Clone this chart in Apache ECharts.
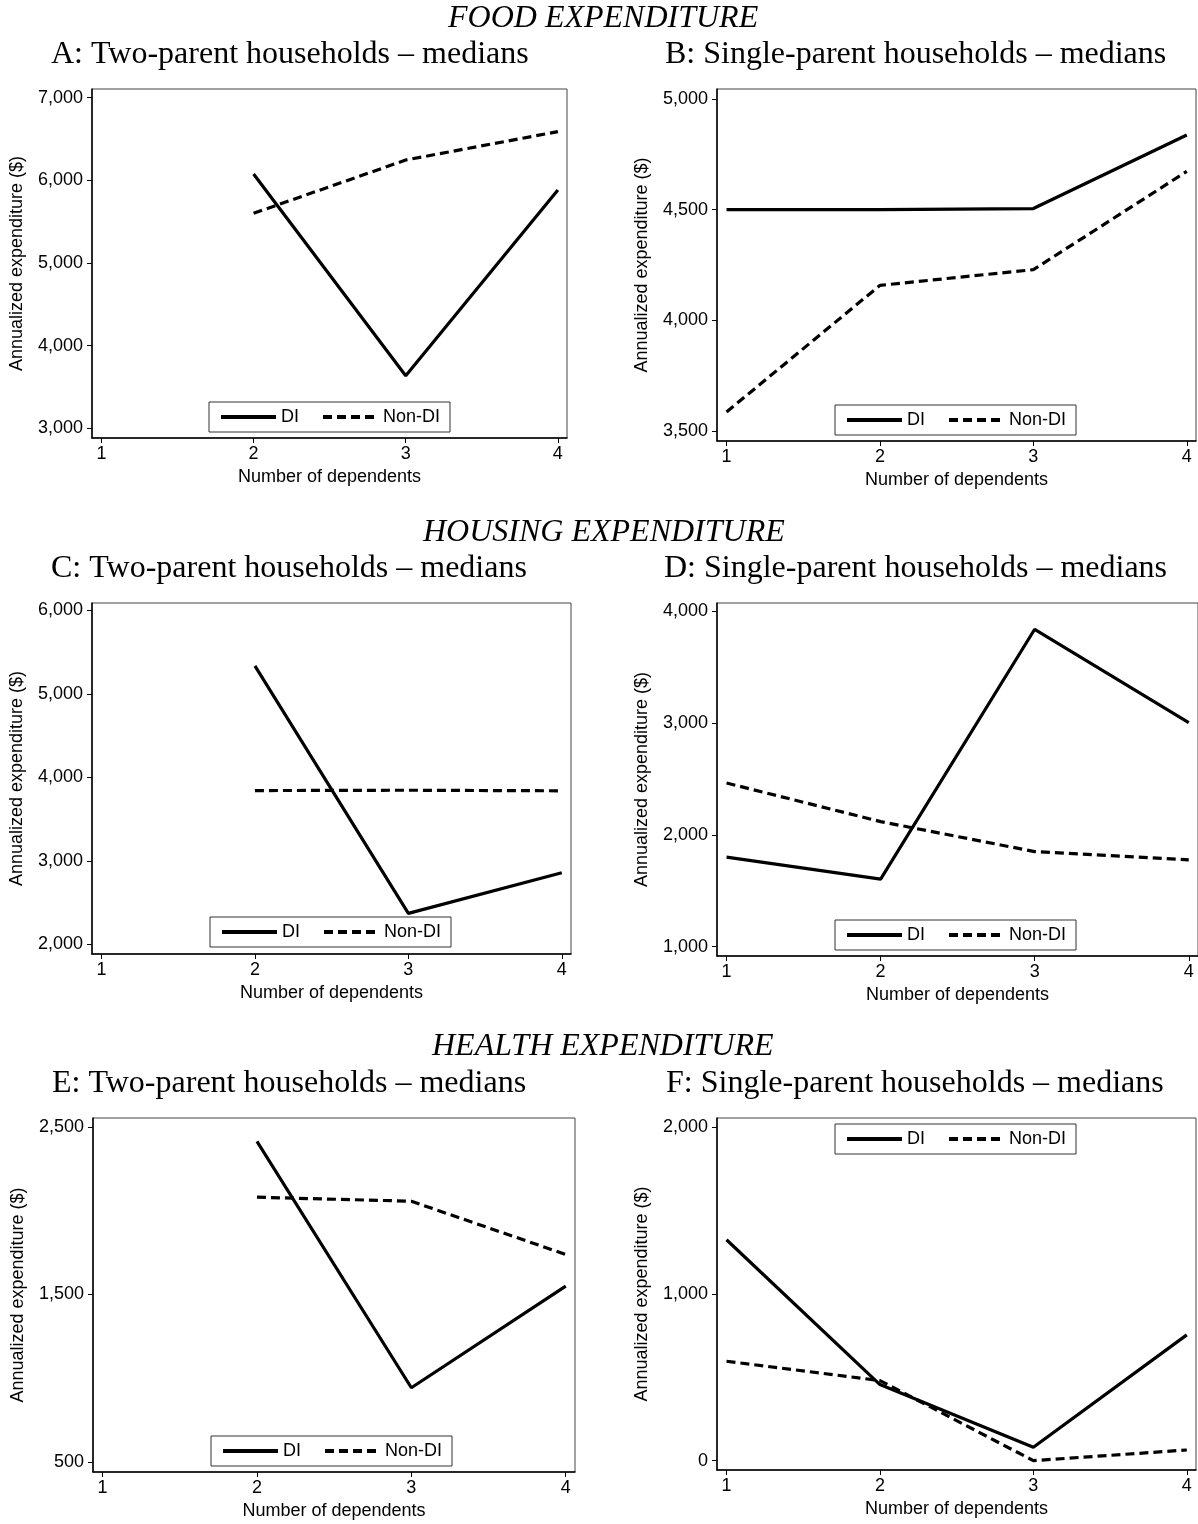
<!DOCTYPE html>
<html>
<head>
<meta charset="utf-8">
<script src="https://cdn.jsdelivr.net/npm/echarts@6/dist/echarts.min.js"></script>
<style>
html,body{margin:0;padding:0;background:#fff;}
#chart{width:1198px;height:1524px;}
</style>
</head>
<body>
<div id="chart"></div>
<script>
// ---- data ----
const dependents = [1, 2, 3, 4];
const xTicks = [1, 2, 3, 4];

const foodTwoDI = [null, 6077, 3636, 5883];
const foodTwoNonDI = [null, 5601, 6246, 6589];
const foodSingleDI = [4500, 4500, 4505, 4837];
const foodSingleNonDI = [3586, 4158, 4229, 4673];

const housingTwoDI = [null, 5334, 2371, 2856];
const housingTwoNonDI = [null, 3841, 3845, 3838];
const housingSingleDI = [1801, 1604, 3839, 3005];
const housingSingleNonDI = [2464, 2119, 1851, 1777];

const healthTwoDI = [null, 2414, 943, 1550];
const healthTwoNonDI = [null, 2081, 2057, 1739];
const healthSingleDI = [1324, 456, 80, 754];
const healthSingleNonDI = [596, 480, 0, 64];

const yTicksA = [3000, 4000, 5000, 6000, 7000];
const yTicksB = [3500, 4000, 4500, 5000];
const yTicksC = [2000, 3000, 4000, 5000, 6000];
const yTicksD = [1000, 2000, 3000, 4000];
const yTicksE = [500, 1500, 2500];
const yTicksF = [0, 1000, 2000];

const sectionTitles = ['FOOD EXPENDITURE', 'HOUSING EXPENDITURE', 'HEALTH EXPENDITURE'];
const panelTitles = [
  'A: Two-parent households \u2013 medians',
  'B: Single-parent households \u2013 medians',
  'C: Two-parent households \u2013 medians',
  'D: Single-parent households \u2013 medians',
  'E: Two-parent households \u2013 medians',
  'F: Single-parent households \u2013 medians'
];
const seriesNames = ['DI', 'Non-DI'];
const yAxisTitle = 'Annualized expenditure ($)';
const xAxisTitle = 'Number of dependents';

// ---- layout ----
const panels = [
  {grid:{left:92, top:89, width:475, height:349}, y:[2883,7105], ticks:yTicksA, di:foodTwoDI, non:foodTwoNonDI, title:{left:51, top:39}, legend:{left:209, top:402}},
  {grid:{left:717, top:89, width:479, height:352}, y:[3455,5045], ticks:yTicksB, di:foodSingleDI, non:foodSingleNonDI, title:{left:665, top:39}, legend:{left:835, top:405}},
  {grid:{left:92, top:603, width:479, height:351}, y:[1884,6087], ticks:yTicksC, di:housingTwoDI, non:housingTwoNonDI, title:{left:51, top:553}, legend:{left:210, top:917}},
  {grid:{left:717, top:603, width:481, height:353}, y:[917,4074], ticks:yTicksD, di:housingSingleDI, non:housingSingleNonDI, title:{left:664, top:553}, legend:{left:835, top:920}},
  {grid:{left:93, top:1118, width:482, height:354}, y:[440,2554], ticks:yTicksE, di:healthTwoDI, non:healthTwoNonDI, title:{left:52, top:1068}, legend:{left:211, top:1436}},
  {grid:{left:717, top:1118, width:479, height:352}, y:[-56,2054], ticks:yTicksF, di:healthSingleDI, non:healthSingleNonDI, title:{left:666, top:1068}, legend:{left:835, top:1124}}
];
const sectionPos = [{left:448, top:3}, {left:423, top:517}, {left:432, top:1031}];

const sans = 'Liberation Sans, Arial, sans-serif';
const serif = 'Liberation Serif, Times New Roman, serif';
const fmt = v => String(v).replace(/\B(?=(\d{3})+(?!\d))/g, ',');
const toPairs = arr => dependents.map((x, i) => [x, arr[i]]).filter(p => p[1] !== null);

const titles = [];
sectionTitles.forEach((t, i) => titles.push({
  text: t, left: sectionPos[i].left, top: sectionPos[i].top, padding: 0,
  textStyle: {fontFamily: serif, fontStyle: 'italic', fontWeight: 'normal', fontSize: 32, color: '#000'}
}));
panels.forEach((p, i) => titles.push({
  text: panelTitles[i], left: p.title.left, top: p.title.top, padding: 0,
  textStyle: {fontFamily: serif, fontWeight: 'normal', fontSize: 32, color: '#000'}
}));

const grids = [], xAxes = [], yAxes = [], series = [], legends = [];
panels.forEach((p, i) => {
  grids.push(Object.assign({show: true, borderColor: '#444', borderWidth: 1, backgroundColor: 'transparent'}, p.grid));
  xAxes.push({
    type: 'value', gridIndex: i, min: 0.938, max: 4.06,
    name: xAxisTitle, nameLocation: 'middle', nameGap: 30,
    nameTextStyle: {fontFamily: sans, fontSize: 18, color: '#000'},
    axisLine: {show: true, onZero: false, lineStyle: {color: '#000', width: 1.5}},
    axisTick: {show: true, length: 5, customValues: xTicks, lineStyle: {color: '#000', width: 1}},
    axisLabel: {customValues: xTicks, margin: 7, fontFamily: sans, fontSize: 18, color: '#000'},
    splitLine: {show: false}
  });
  yAxes.push({
    type: 'value', gridIndex: i, min: p.y[0], max: p.y[1],
    name: yAxisTitle, nameLocation: 'middle', nameGap: 66, nameRotate: 90,
    nameTextStyle: {fontFamily: sans, fontSize: 18, color: '#000'},
    axisLine: {show: true, onZero: false, lineStyle: {color: '#000', width: 1.5}},
    axisTick: {show: true, length: 5, customValues: p.ticks, lineStyle: {color: '#000', width: 1}},
    axisLabel: {customValues: p.ticks, margin: 9, fontFamily: sans, fontSize: 18, color: '#000', formatter: fmt},
    splitLine: {show: false}
  });
  series.push({
    name: seriesNames[0], type: 'line', xAxisIndex: i, yAxisIndex: i,
    data: toPairs(p.di), symbol: 'none', silent: true, animation: false,
    lineStyle: {color: '#000', width: 3.2, type: 'solid'}, itemStyle: {color: '#000'}
  });
  series.push({
    name: seriesNames[1], type: 'line', xAxisIndex: i, yAxisIndex: i,
    data: toPairs(p.non), symbol: 'none', silent: true, animation: false,
    lineStyle: {color: '#000', width: 3.2, type: [9, 5]}, itemStyle: {color: '#000'}
  });
  legends.push({
    data: seriesNames, left: p.legend.left, top: p.legend.top, orient: 'horizontal',
    itemWidth: 55, itemHeight: 14, itemGap: 22, padding: [6, 10],
    borderColor: '#333', borderWidth: 1, backgroundColor: '#fff',
    itemStyle: {color: 'rgba(0,0,0,0)', borderWidth: 0, opacity: 0},
    lineStyle: {width: 4},
    textStyle: {fontFamily: sans, fontSize: 18, color: '#000'},
    selectedMode: false
  });
});

const chart = echarts.init(document.getElementById('chart'), null, {renderer: 'canvas'});
chart.setOption({
  animation: false,
  backgroundColor: '#fff',
  title: titles,
  grid: grids,
  xAxis: xAxes,
  yAxis: yAxes,
  legend: legends,
  series: series
});
</script>
</body>
</html>
